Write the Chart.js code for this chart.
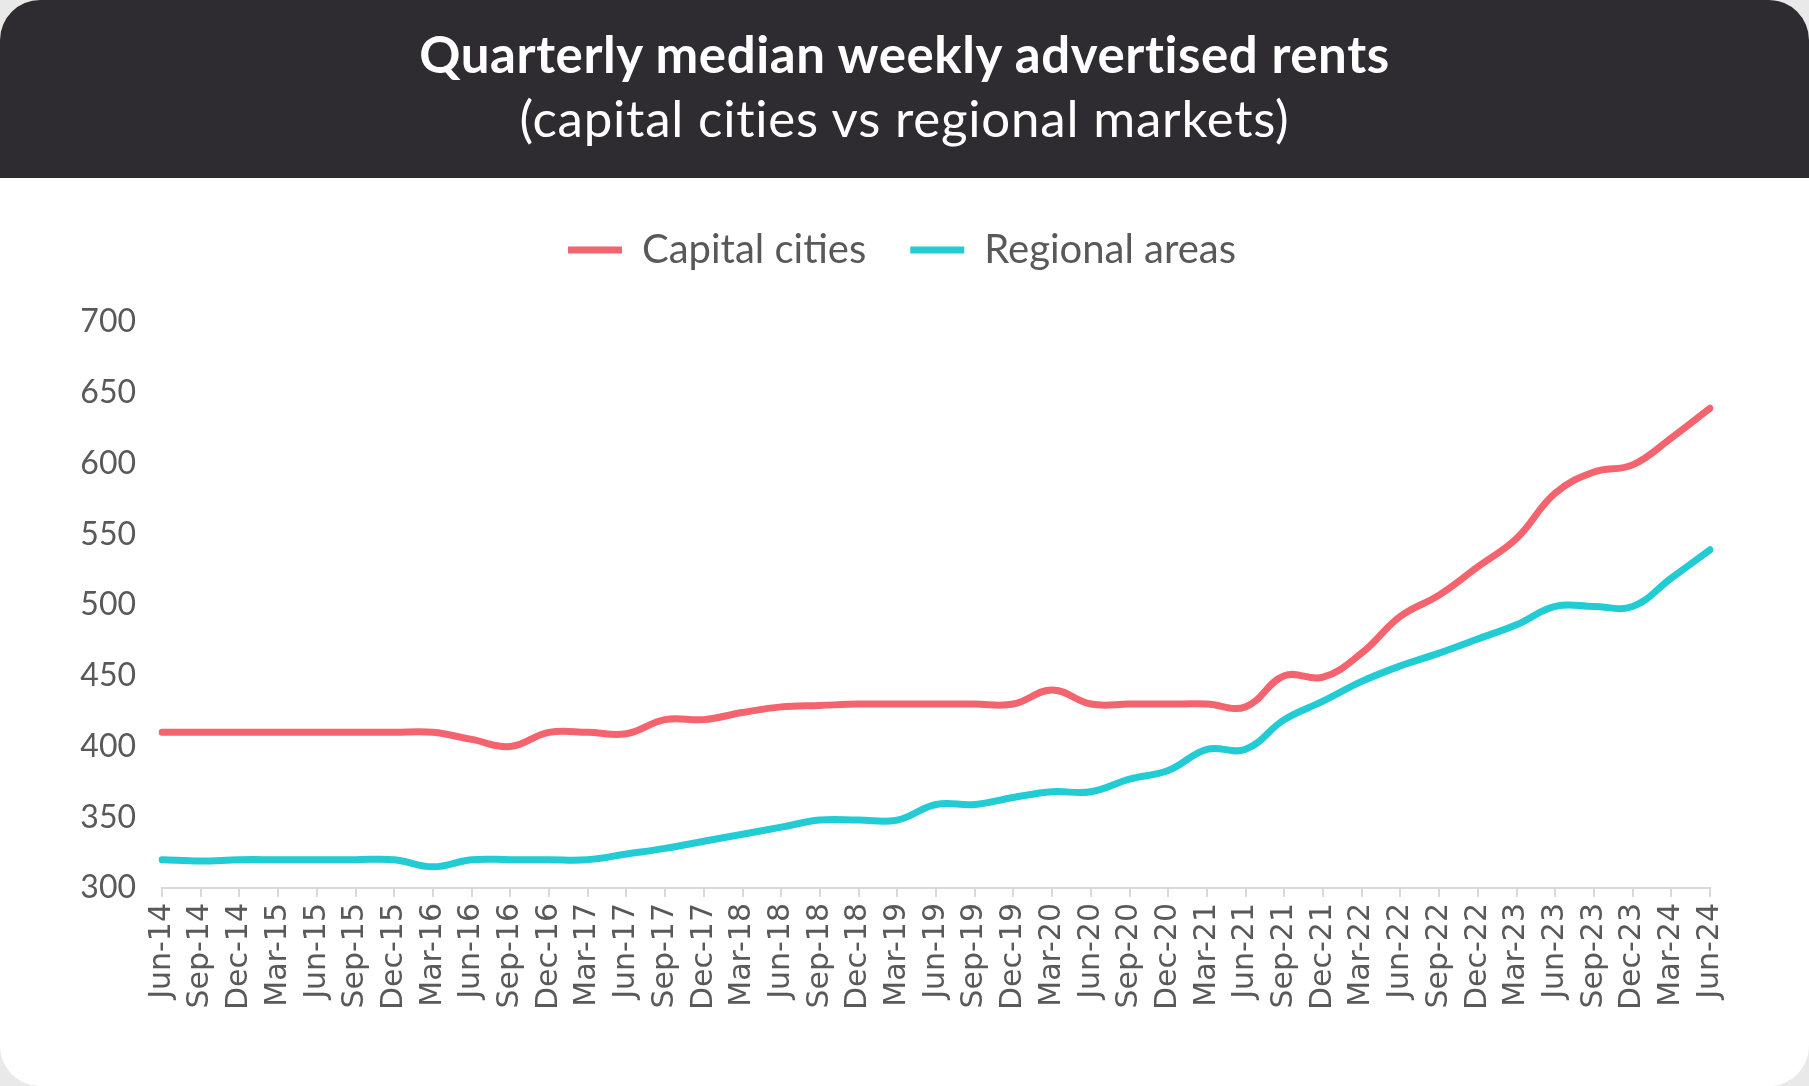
<!DOCTYPE html>
<html>
<head>
<meta charset="utf-8">
<script src="https://cdn.jsdelivr.net/npm/chart.js@4.4.1/dist/chart.umd.min.js"></script>
<style>
  html, body { margin: 0; padding: 0; background: #e9e9e9; }
  #card {
    position: absolute; left: 0; top: 0; width: 1809px; height: 1086px;
    background: #ffffff; border-radius: 40px; overflow: hidden;
  }
  #header {
    height: 178px; background: #2e2c31; color: #ffffff;
    text-align: center; font-family: Lato, "Open Sans", sans-serif;
  }
  #header .l1 { font-weight: 700; font-size: 51px; line-height: 64px; padding-top: 22px; letter-spacing: 0.6px; }
  #header .l2 { font-weight: 400; font-size: 51px; line-height: 64px; letter-spacing: 0.8px; }
  #wrap { position: absolute; left: 0; top: 172px; width: 1809px; height: 914px; }
</style>
</head>
<body>
<div id="card">
  <div id="header">
    <div class="l1">Quarterly median weekly advertised rents</div>
    <div class="l2">(capital cities vs regional markets)</div>
  </div>
  <div id="wrap"><canvas id="rents"></canvas></div>
</div>
<script>
// quarters, Jun-14 .. Jun-24
const quarters = [
  'Jun-14', 'Sep-14', 'Dec-14', 'Mar-15', 'Jun-15', 'Sep-15', 'Dec-15', 'Mar-16',
  'Jun-16', 'Sep-16', 'Dec-16', 'Mar-17', 'Jun-17', 'Sep-17', 'Dec-17', 'Mar-18',
  'Jun-18', 'Sep-18', 'Dec-18', 'Mar-19', 'Jun-19', 'Sep-19', 'Dec-19', 'Mar-20',
  'Jun-20', 'Sep-20', 'Dec-20', 'Mar-21', 'Jun-21', 'Sep-21', 'Dec-21', 'Mar-22',
  'Jun-22', 'Sep-22', 'Dec-22', 'Mar-23', 'Jun-23', 'Sep-23', 'Dec-23', 'Mar-24',
  'Jun-24'
];

// median weekly rent ($)
const capitalCities = [
  410, 410, 410, 410, 410, 410, 410, 410,
  405, 400, 410, 410, 409, 419, 419, 424,
  428, 429, 430, 430, 430, 430, 430, 440,
  430, 430, 430, 430, 428, 450, 449, 466,
  492, 507, 527, 547, 579, 594, 599, 618,
  639
];
const regionalAreas = [
  320, 319, 320, 320, 320, 320, 320, 315,
  320, 320, 320, 320, 324, 328, 333, 338,
  343, 348, 348, 348, 359, 359, 364, 368,
  368, 377, 383, 398, 398, 419, 432, 446,
  457, 466, 476, 486, 499, 499, 499, 519,
  539
];

const yTicks = [300, 350, 400, 450, 500, 550, 600, 650, 700];

document.addEventListener('DOMContentLoaded', function () {
    const ctx = document.getElementById('rents').getContext('2d');

    // legend padding doubles as the gap between items; fix up its height and centring
    const legendTweak = {
        id: 'legendTweak',
        beforeInit(chart) {
            const fit = chart.legend.fit;
            chart.legend.fit = function () {
                fit.bind(chart.legend)();
                this.height += 42;
            };
        },
        afterLayout(chart) {
            chart.legend.left += 32;
            chart.legend.right += 32;
        }
    };

    new Chart(ctx, {
        type: 'line',
        data: {
            labels: quarters,
            datasets: [{
                label: 'Capital cities',
                data: capitalCities,
                borderColor: '#f4646f',
                backgroundColor: '#f4646f',
                borderWidth: 7,
                borderCapStyle: 'round',
                pointRadius: 0,
                tension: 0.4
            }, {
                label: 'Regional areas',
                data: regionalAreas,
                borderColor: '#22ccd4',
                backgroundColor: '#22ccd4',
                borderWidth: 7,
                borderCapStyle: 'round',
                pointRadius: 0,
                tension: 0.4
            }]
        },
        plugins: [legendTweak],
        options: {
            responsive: true,
            maintainAspectRatio: false,
            animation: false,
            layout: { padding: { top: 14, left: 30, right: 99, bottom: 68 } },
            plugins: {
                tooltip: { enabled: false },
                legend: {
                    labels: {
                        usePointStyle: true,
                        pointStyle: 'line',
                        pointStyleWidth: 54,
                        padding: 44,
                        color: '#595959',
                        font: { family: 'Lato', size: 40 }
                    }
                }
            },
            scales: {
                x: {
                    offset: false,
                    grid: { display: true, drawOnChartArea: false, color: '#d9d9d9', lineWidth: 2, tickLength: 9 },
                    border: { display: true, color: '#d9d9d9', width: 2 },
                    ticks: {
                        autoSkip: false,
                        minRotation: 90,
                        maxRotation: 90,
                        padding: 6,
                        color: '#595959',
                        font: { family: 'DejaVu Sans', size: 30 }
                    },
                    afterFit(scale) { scale.height = 130; }
                },
                y: {
                    min: 300,
                    max: 700,
                    grid: { display: false, drawTicks: false },
                    border: { display: false },
                    afterBuildTicks(scale) { scale.ticks = yTicks.map(v => ({ value: v })); },
                    ticks: {
                        padding: 26,
                        color: '#595959',
                        font: { family: 'Lato', size: 32 }
                    },
                    afterFit(scale) { scale.width = 132; }
                }
            }
        }
    });
});
</script>
</body>
</html>
